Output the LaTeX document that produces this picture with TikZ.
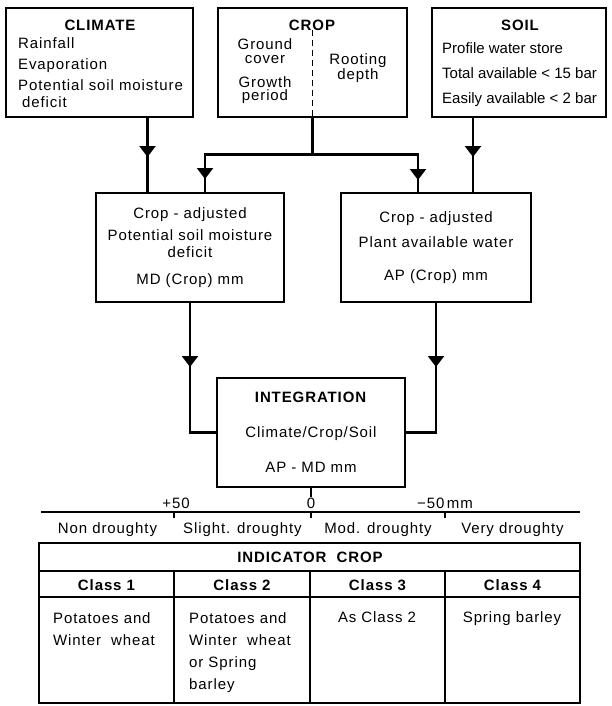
\documentclass[tikz,border=0pt]{standalone}
\usepackage{fontspec}
\setmainfont{Liberation Sans}[LetterSpace=6]
\usetikzlibrary{arrows.meta, positioning, calc, decorations.markings}
\tikzset{
  box/.style={draw, line width=2.8pt, inner sep=0pt, outer sep=0pt},
  head/.style={font=\fontsize{15pt}{18pt}\selectfont\bfseries, inner sep=0pt},
  txt/.style={inner sep=0pt, text height=11pt, text depth=3pt},
  tight/.style={txt, font=\fontsize{15pt}{18pt}\selectfont\addfontfeature{LetterSpace=0}},
  pair/.style={inner sep=0pt, align=center, font=\fontsize{15pt}{13.5pt}\selectfont},
  cell/.style={inner sep=0pt, align=left, anchor=north west,
    font=\fontsize{15pt}{22pt}\selectfont},
  link/.style={line width=2.4pt},
  tip/.style={postaction={decorate}, decoration={markings,
      mark=at position #1 with {\arrow{Triangle[width=16pt, length=11pt]}}}},
  rule/.style={line width=2.2pt},
}

\begin{document}
\begin{tikzpicture}[x=1pt, y=-1pt, font=\fontsize{15pt}{18pt}\selectfont]
    \useasboundingbox (0,0) rectangle (611,706);

    % inputs
    \node[box, minimum width=187, minimum height=109] (climate) at (99.5,62.5) {};
    \node[box, minimum width=189, minimum height=109] (crop) at (312.5,62.5) {};
    \node[box, minimum width=174, minimum height=109] (soil) at (519,62.5) {};

    \node[head] (climatehead) at (100,25) {CLIMATE};
    \node[txt, anchor=west] (rain) at (18,45) {Rainfall};
    \node[txt, anchor=west] (evap) at (18,66) {Evaporation};
    \node[txt, anchor=west] (psmd) at (18,87) {Potential soil moisture};
    \node[txt, anchor=west] (psmdb) at (22,103) {deficit};

    \node[head] (crophead) at (312,25) {CROP};
    \draw[dashed, line width=1.3pt, dash pattern=on 6pt off 4pt]
      ([yshift=-22pt]crop.north) -- (crop.south);
    \node[pair] (cover) at (265,51) {Ground\\cover};
    \node[pair] (growth) at (265,90) {Growth\\period};
    \node[pair] (rooting) at (358,68) {Rooting\\depth};

    \node[head] (soilhead) at (520,25) {SOIL};
    \node[tight, anchor=west] (store) at (442,50) {Profile water store};
    \node[tight, anchor=west] (total) at (442,75) {Total available < 15 bar};
    \node[tight, anchor=west] (easy) at (442,99) {Easily available < 2 bar};

    % crop-adjusted values
    \node[box, minimum width=188, minimum height=109, align=center] (md) at (190,247.5)
      {Crop - adjusted\\[4pt]Potential soil moisture\\[-1pt]deficit\\[9pt]MD (Crop) mm};
    \node[box, minimum width=190, minimum height=109, align=center] (ap) at (436,247.5)
      {Crop - adjusted\\[7pt]Plant available water\\[15pt]AP (Crop) mm};

    \node[box, minimum width=188, minimum height=109, align=center] (int) at (311,432.5)
      {\textbf{INTEGRATION}\\[17pt]Climate/Crop/Soil\\[17pt]AP - MD mm};

    \draw[link, tip=40pt] ([xshift=48pt]climate.south)
      -- ([xshift=48pt]climate.south |- md.north);
    \draw[link] (crop.south) -- ++(0,37.5) coordinate (fork);
    \draw[link, tip=132pt] (fork) -| ([xshift=15pt]md.north);
    \draw[link, tip=131pt] (fork) -| ([xshift=-18pt]ap.north);
    \draw[link, tip=40pt] ([xshift=-46pt]soil.south)
      -- ([xshift=-46pt]soil.south |- ap.north);
    \draw[link, tip=65pt] (md.south) |- (int.west);
    \draw[link, tip=65pt] (ap.south) |- (int.east);

    % scale
    \node[inner sep=0pt] (plus) at (176,503) {+50};
    \node[inner sep=0pt] (zero) at (311,503) {0};
    \node[inner sep=0pt] (minus) at (445,503) {−50\,mm};
    \draw[link] (int.south) -- (zero.north);
    \draw[rule] (41,512) -- (580,512);
    \foreach \x in {174,311,445}
      \draw[rule] (\x,512) -- ++(0,6);
    \foreach \x/\name/\t in {107.5/non/Non droughty, 242.5/slight/Slight. droughty,
        378/mod/Mod. droughty, 512.5/very/Very droughty}
      \node[txt] (\name) at (\x,529) {\t};

    % indicator crop table
    \draw[rule] (39,543) rectangle (580,703);
    \draw[rule] (39,571) -- (580,571);
    \draw[rule] (39,597) -- (580,597);
    \foreach \x in {174,310,445}
      \draw[rule] (\x,571) -- (\x,703);
    \node[head] (indicator) at (310,557) {INDICATOR\ \ CROP};
    \foreach \i/\x in {1/106.5,2/242,3/377.5,4/512.5}
      \node[head] (class\i) at (\x,585) {Class \i};

    \node[cell] (crops1) at (53,612) {Potatoes and\\Winter\ \ wheat};
    \node[cell] (crops2) at (189,612) {Potatoes and\\Winter\ \ wheat\\or Spring\\barley};
    \node[txt] (crops3) at (377,618) {As Class 2};
    \node[txt] (crops4) at (512,618) {Spring barley};
\end{tikzpicture}
\end{document}
